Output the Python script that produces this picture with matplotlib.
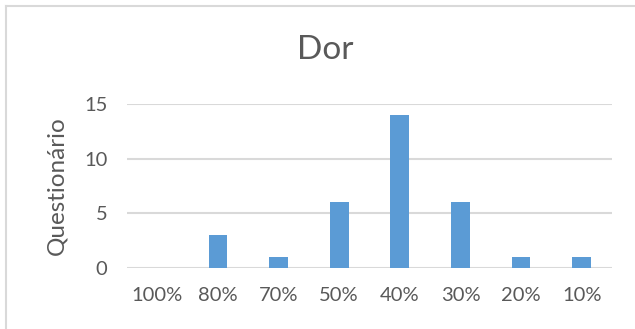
import matplotlib
matplotlib.use("Agg")
import matplotlib.pyplot as plt
from matplotlib.lines import Line2D

# data
categories = ["100%", "80%", "70%", "50%", "40%", "30%", "20%", "10%"]
values = [0, 3, 1, 6, 14, 6, 1, 1]
yticks = [0, 5, 10, 15]

plt.rcParams["font.family"] = ["Lato", "DejaVu Sans"]
TEXT = "#595959"
GRID = "#D9D9D9"
BAR = "#5B9BD5"

fig = plt.figure(figsize=(6.35, 3.29), dpi=100)
ax = fig.add_axes([127 / 635, 61 / 329, 485 / 635, 164 / 329])

x = range(len(categories))
ax.bar(x, values, width=0.31, color=BAR, zorder=3)

ax.set_xlim(-0.5, len(categories) - 0.5)
ax.set_ylim(0, 15)
ax.set_yticks(yticks)
ax.set_xticks(list(x))
ax.set_xticklabels(categories)
ax.yaxis.grid(True, color=GRID, linewidth=1.5, zorder=0)
ax.tick_params(axis="both", length=0, labelsize=14.5, colors=TEXT)
ax.tick_params(axis="x", pad=14)
ax.tick_params(axis="y", pad=14)
for s in ax.spines.values():
    s.set_visible(False)

# axis title and chart title
fig.text(57 / 635, 1 - 186 / 329, "Questionário", fontsize=17.5, color=TEXT,
         rotation=90, ha="center", va="center")
fig.text(325 / 635, 1 - 50 / 329, "Dor", fontsize=24, color=TEXT,
         ha="center", va="center")

# chart frame (only top and left edges visible in crop)
fig.add_artist(Line2D([6 / 635, 6 / 635], [0, 1 - 5.5 / 329],
                      transform=fig.transFigure, color=GRID, linewidth=1.5))
fig.add_artist(Line2D([6 / 635, 634 / 635], [1 - 5.5 / 329, 1 - 5.5 / 329],
                      transform=fig.transFigure, color=GRID, linewidth=1.5))

fig.savefig("out.png", dpi=100)
